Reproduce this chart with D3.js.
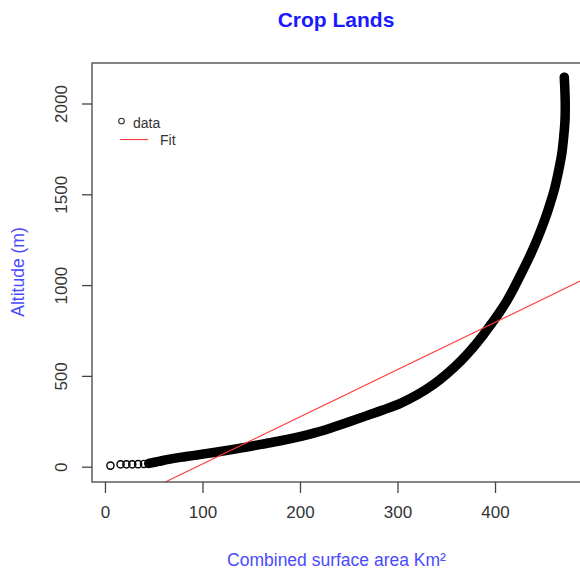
<!DOCTYPE html>
<html>
<head>
<meta charset="utf-8">
<script src="https://cdn.jsdelivr.net/npm/d3@7"></script>
<style>
  html, body { margin: 0; padding: 0; background: #fff; overflow: hidden; }
  svg { display: block; font-family: "Liberation Sans", Arial, Helvetica, sans-serif; }
</style>
</head>
<body>
<svg id="chart" width="580" height="569"></svg>
<script>
// Hypsometric curve of crop lands: cumulative surface area (km²) vs altitude (m)

// Isolated low-altitude observations (drawn as separate open circles)
const sparseArea = [5.6, 16, 22, 28, 34, 40];
const sparseAlt  = [6, 13, 13, 13, 14, 15];

// Dense run of observations forming the main curve
const curveArea = [45, 55, 65, 77, 90, 100, 115, 130, 145, 160, 180, 200, 215, 231, 252, 270, 285, 303,
                   320, 337, 350, 365, 377, 388, 396, 404, 412, 419, 428, 437, 444, 450, 456, 461,
                   465, 468.5, 470.5, 471.8, 472, 471.6, 471];
const curveAlt  = [18, 29, 40, 51, 61, 69, 81, 94, 108, 123, 143, 166, 186, 212, 250, 284, 312, 349,
                   395, 453, 508, 583, 653, 726, 785, 845, 912, 980, 1075, 1175, 1262, 1345, 1440, 1530,
                   1625, 1725, 1820, 1912, 2000, 2080, 2145];

// Linear fit: altitude = intercept + slope * area
const fitIntercept = -245;
const fitSlope = 2.6;

const xTicks = [0, 100, 200, 300, 400];
const yTicks = [0, 500, 1000, 1500, 2000];

const titleText = "Crop Lands";
const xLabel = "Combined surface area Km²";
const yLabel = "Altitude (m)";
const legendLabels = ["data", "Fit"];

const svg = d3.select("#chart");
const plot = { left: 92, top: 63, right: 586, bottom: 482 };

const x = d3.scaleLinear().domain([-13.3, 493.3]).range([plot.left, plot.right]);
const y = d3.scaleLinear().domain([-84.3, 2223]).range([plot.bottom, plot.top]);

const axisColor = "#444";
const textColor = "#333";

svg.append("defs").append("clipPath").attr("id", "plotclip")
  .append("rect")
  .attr("x", plot.left).attr("y", plot.top)
  .attr("width", plot.right - plot.left).attr("height", plot.bottom - plot.top);

const g = svg.append("g").attr("clip-path", "url(#plotclip)");

// Dense curve band
const curvePts = curveArea.map((a, i) => [a, curveAlt[i]]);
const line = d3.line().x(d => x(d[0])).y(d => y(d[1])).curve(d3.curveCatmullRom.alpha(0.5));
g.append("path")
  .datum(curvePts)
  .attr("d", line)
  .attr("fill", "none")
  .attr("stroke", "#000")
  .attr("stroke-width", 9.5)
  .attr("stroke-linecap", "round")
  .attr("stroke-linejoin", "round");

// Individual observations as open circles
const allPts = sparseArea.map((a, i) => [a, sparseAlt[i]]).concat(curvePts);
g.selectAll("circle.obs")
  .data(allPts)
  .join("circle")
  .attr("class", "obs")
  .attr("cx", d => x(d[0]))
  .attr("cy", d => y(d[1]))
  .attr("r", 3.6)
  .attr("fill", "none")
  .attr("stroke", "#000")
  .attr("stroke-width", 1.4);

// Fit line across the whole plotting region
const [xd0, xd1] = x.domain();
g.append("line")
  .attr("x1", x(xd0)).attr("y1", y(fitIntercept + fitSlope * xd0))
  .attr("x2", x(xd1)).attr("y2", y(fitIntercept + fitSlope * xd1))
  .attr("stroke", "#ff3a3a")
  .attr("stroke-width", 1.1);

// Frame
svg.append("rect")
  .attr("x", plot.left).attr("y", plot.top)
  .attr("width", plot.right - plot.left).attr("height", plot.bottom - plot.top)
  .attr("fill", "none")
  .attr("stroke", axisColor)
  .attr("stroke-width", 1.3);

// X axis
const xAxis = svg.append("g")
  .attr("transform", `translate(0,${plot.bottom})`)
  .call(d3.axisBottom(x).tickValues(xTicks).tickSize(11).tickPadding(13).tickFormat(d3.format("d")));
xAxis.select(".domain").remove();
xAxis.selectAll(".tick line").attr("stroke", axisColor).attr("stroke-width", 1.3);
xAxis.selectAll(".tick text")
  .attr("fill", textColor)
  .style("font-size", "17px")
  .style("font-family", "Liberation Sans, Arial, sans-serif");

// Y axis with rotated labels
const yAxis = svg.append("g")
  .attr("transform", `translate(${plot.left},0)`)
  .call(d3.axisLeft(y).tickValues(yTicks).tickSize(10).tickFormat(d3.format("d")));
yAxis.select(".domain").remove();
yAxis.selectAll(".tick line").attr("stroke", axisColor).attr("stroke-width", 1.3);
yAxis.selectAll(".tick text")
  .attr("transform", "rotate(-90)")
  .attr("x", 0)
  .attr("y", -25)
  .attr("dy", "0")
  .attr("text-anchor", "middle")
  .attr("fill", textColor)
  .style("font-size", "17px")
  .style("font-family", "Liberation Sans, Arial, sans-serif");

// Title and axis titles
svg.append("text")
  .attr("x", 336).attr("y", 27)
  .attr("text-anchor", "middle")
  .attr("fill", "#1a1aff")
  .style("font-size", "21px")
  .style("font-weight", "bold")
  .text(titleText);

svg.append("text")
  .attr("x", 336.5).attr("y", 566)
  .attr("text-anchor", "middle")
  .attr("fill", "#4a4aff")
  .style("font-size", "17.5px")
  .text(xLabel);

svg.append("text")
  .attr("transform", "translate(23.5,272) rotate(-90)")
  .attr("text-anchor", "middle")
  .attr("fill", "#4a4aff")
  .style("font-size", "17.5px")
  .text(yLabel);

// Legend
const legend = svg.append("g");
legend.append("circle")
  .attr("cx", 121.5).attr("cy", 121)
  .attr("r", 2.8)
  .attr("fill", "none")
  .attr("stroke", "#333")
  .attr("stroke-width", 1.1);
legend.append("text")
  .attr("x", 133).attr("y", 128)
  .attr("fill", textColor)
  .style("font-size", "14px")
  .text(legendLabels[0]);
legend.append("line")
  .attr("x1", 120).attr("x2", 148)
  .attr("y1", 139.5).attr("y2", 139.5)
  .attr("stroke", "#ff3a3a")
  .attr("stroke-width", 1.1);
legend.append("text")
  .attr("x", 160).attr("y", 145)
  .attr("fill", textColor)
  .style("font-size", "14px")
  .text(legendLabels[1]);
</script>
</body>
</html>
